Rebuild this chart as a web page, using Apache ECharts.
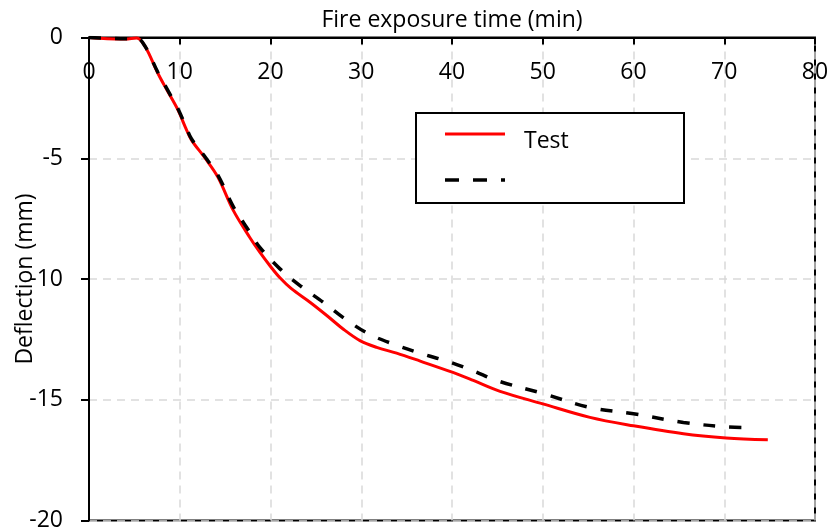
<!DOCTYPE html>
<html>
<head>
<meta charset="utf-8">
<script src="https://cdn.jsdelivr.net/npm/echarts@6/dist/echarts.min.js"></script>
<style>html,body{margin:0;padding:0;background:#fff}#c{width:831px;height:531px}</style>
</head>
<body>
<div id="c"></div>
<script>
const testTime = [0, 2, 4, 5.25, 6.2, 7.6, 8.7, 9.8, 10.6, 11.3, 12.8, 14.2, 15.9, 17.7, 18.84, 19.94, 21.04, 22.3, 24.35, 26.2, 28.0, 29.86, 31.7, 33.9, 36.5, 40.1, 42.35, 45.3, 50, 55.2, 60, 65.5, 70.2, 74.8];
const testDefl = [0, -0.05, -0.06, -0.02, -0.38, -1.49, -2.25, -3.0, -3.7, -4.25, -5.0, -5.78, -7.16, -8.27, -8.9, -9.45, -9.95, -10.4, -10.96, -11.51, -12.07, -12.55, -12.83, -13.07, -13.4, -13.87, -14.2, -14.65, -15.17, -15.73, -16.08, -16.41, -16.58, -16.66];
const modelTime = [0, 2, 4, 5.25, 6.2, 7.6, 8.7, 9.8, 10.6, 11.3, 12.8, 14.2, 15.9, 17.7, 18.8, 21.04, 23.25, 25.8, 28.2, 30.8, 33.5, 36.7, 39.6, 42.35, 44.9, 50, 55.2, 60, 65.5, 70.2, 73.4];
const modelDefl = [0, -0.03, -0.05, -0.02, -0.38, -1.45, -2.2, -2.95, -3.62, -4.2, -4.95, -5.7, -7.0, -8.05, -8.68, -9.58, -10.27, -10.96, -11.65, -12.27, -12.69, -13.1, -13.42, -13.8, -14.2, -14.74, -15.32, -15.58, -15.94, -16.12, -16.15];
const xTicks = {min: 0, max: 80, interval: 10};
const yTicks = {min: -20, max: 0, interval: 5};

const FONT = 'Open Sans';
const FS = 23;
const chart = echarts.init(document.getElementById('c'));
const zip = (a, b) => a.map((v, i) => [v, b[i]]);
chart.setOption({
  animation: false,
  textStyle: {fontFamily: FONT},
  grid: {left: 89, right: 16, top: 37.5, bottom: 10.5, containLabel: false, outerBoundsMode: 'none',
         show: true, borderColor: '#000', borderWidth: 2, backgroundColor: 'transparent'},
  xAxis: {
    type: 'value', position: 'top', min: xTicks.min, max: xTicks.max, interval: xTicks.interval,
    name: 'Fire exposure time (min)', nameLocation: 'middle', nameGap: 6, nameMoveOverlap: false,
    nameTextStyle: {fontSize: FS, color: '#000', fontFamily: FONT, verticalAlign: 'bottom'},
    axisLine: {show: true, onZero: false, lineStyle: {color: '#000', width: 2}},
    axisTick: {show: true, inside: true, length: 7, lineStyle: {color: '#000', width: 2}},
    axisLabel: {inside: true, margin: 23, fontSize: FS, color: '#000', fontFamily: FONT},
    splitLine: {show: true, lineStyle: {color: '#d9d9d9', type: [8, 6], width: 1.5}}
  },
  yAxis: {
    type: 'value', min: yTicks.min, max: yTicks.max, interval: yTicks.interval,
    name: 'Deflection (mm)', nameLocation: 'middle', nameGap: 52, nameRotate: 90, nameMoveOverlap: false,
    nameTextStyle: {fontSize: FS, color: '#000', fontFamily: FONT},
    axisLine: {show: true, onZero: false, lineStyle: {color: '#000', width: 2}},
    axisTick: {show: true, inside: false, length: 8, lineStyle: {color: '#000', width: 2}},
    axisLabel: {margin: 26, fontSize: FS, color: '#000', fontFamily: FONT},
    splitLine: {show: true, lineStyle: {color: '#d9d9d9', type: [8, 6], width: 1.5}}
  },
  series: [
    {name: 'Test', type: 'line', data: zip(testTime, testDefl), smooth: 0.35, showSymbol: false, z: 2,
     lineStyle: {color: '#ff0000', width: 3}},
    {name: 'Model', type: 'line', data: zip(modelTime, modelDefl), smooth: 0.35, showSymbol: false, z: 3,
     lineStyle: {color: '#000', width: 3.5, type: [12, 14], cap: 'butt'}}
  ],
  graphic: [
    {type: 'rect', left: 415, top: 112, shape: {width: 268, height: 90}, style: {fill: '#fff', stroke: '#000', lineWidth: 2}, z: 10},
    {type: 'line', shape: {x1: 445, y1: 134, x2: 505, y2: 134}, style: {stroke: '#ff0000', lineWidth: 3}, z: 11},
    {type: 'text', left: 524, top: 130, style: {text: 'Test', fontSize: FS, fontFamily: FONT, fill: '#000'}, z: 11},
    {type: 'line', shape: {x1: 445, y1: 180, x2: 505, y2: 180}, style: {stroke: '#000', lineWidth: 3.5, lineDash: [14, 14]}, z: 11}
  ]
});
</script>
</body>
</html>
